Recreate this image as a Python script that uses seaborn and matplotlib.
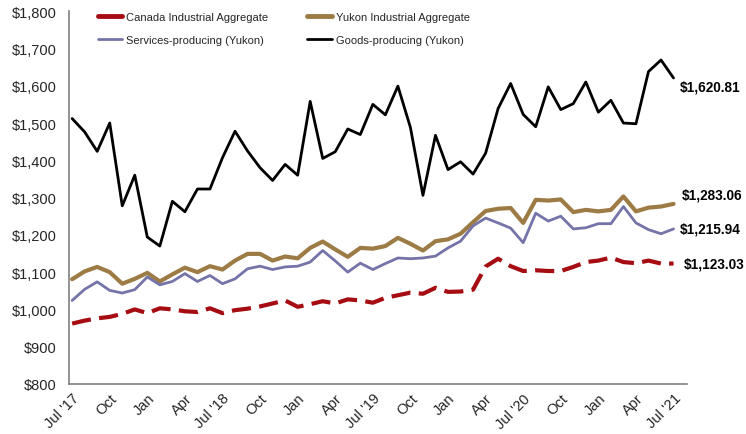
import matplotlib
matplotlib.use("Agg")
import matplotlib.pyplot as plt
from matplotlib.lines import Line2D
import seaborn as sns
import pandas as pd
import numpy as np

months = ["Jul '17", "Aug", "Sep", "Oct", "Nov", "Dec", "Jan", "Feb", "Mar", "Apr", "May", "Jun",
          "Jul '18", "Aug", "Sep", "Oct", "Nov", "Dec", "Jan", "Feb", "Mar", "Apr", "May", "Jun",
          "Jul '19", "Aug", "Sep", "Oct", "Nov", "Dec", "Jan", "Feb", "Mar", "Apr", "May", "Jun",
          "Jul '20", "Aug", "Sep", "Oct", "Nov", "Dec", "Jan", "Feb", "Mar", "Apr", "May", "Jun",
          "Jul '21"]

canada = [962, 970, 976, 980, 988, 1000, 990, 1003, 1000, 995, 993, 1003,
          990, 998, 1002, 1008, 1016, 1024, 1007, 1014, 1022, 1016, 1027, 1024,
          1018, 1031, 1038, 1045, 1042, 1058, 1047, 1048, 1053, 1115, 1136, 1116,
          1103, 1105, 1103, 1103, 1114, 1127, 1131, 1139, 1127, 1124, 1131, 1123,
          1123.03]
yukon = [1081, 1102, 1114, 1100, 1069, 1082, 1098, 1075, 1094, 1112, 1100, 1116,
         1107, 1131, 1149, 1149, 1131, 1142, 1137, 1165, 1182, 1161, 1141, 1165,
         1163, 1170, 1192, 1176, 1158, 1183, 1188, 1203, 1234, 1264, 1270, 1272,
         1232, 1294, 1292, 1295, 1261, 1267, 1263, 1267, 1303, 1263, 1273, 1276,
         1283.06]
services = [1024, 1054, 1074, 1051, 1044, 1053, 1087, 1066, 1075, 1096, 1075, 1091,
            1069, 1082, 1109, 1116, 1107, 1114, 1116, 1127, 1158, 1130, 1100, 1124,
            1107, 1123, 1138, 1136, 1138, 1143, 1165, 1183, 1224, 1245, 1232, 1218,
            1179, 1258, 1237, 1250, 1216, 1219, 1230, 1230, 1276, 1232, 1214, 1203,
            1215.94]
goods = [1512, 1476, 1424, 1500, 1278, 1360, 1194, 1170, 1290, 1262, 1323, 1323,
         1407, 1478, 1425, 1380, 1346, 1389, 1360, 1558, 1405, 1423, 1484, 1469,
         1550, 1522, 1599, 1488, 1306, 1467, 1375, 1396, 1363, 1419, 1539, 1606,
         1523, 1490, 1597, 1536, 1552, 1610, 1529, 1561, 1500, 1498, 1638, 1669,
         1620.81]

series_names = ["Canada Industrial Aggregate", "Yukon Industrial Aggregate",
                "Services-producing (Yukon)", "Goods-producing (Yukon)"]
end_labels = ["$1,123.03", "$1,283.06", "$1,215.94", "$1,620.81"]

colors = ["#a50d12", "#9c7b45", "#7474a8", "#000000"]
widths = [3.0, 3.0, 2.0, 2.0]

sns.set_style("white")
plt.rcParams['font.family'] = ['Liberation Sans', 'DejaVu Sans']

fig = plt.figure(figsize=(7.46, 4.35), dpi=100)
ax = fig.add_axes([0.0925, 0.115, 0.828, 0.857])

x = np.arange(len(months))
all_series = [canada, yukon, services, goods]
for name, vals, c, w in zip(series_names, all_series, colors, widths):
    df = pd.DataFrame({"month": x, "value": vals})
    sns.lineplot(data=df, x="month", y="value", color=c, linewidth=w, ax=ax, legend=False)
    if name.startswith("Canada"):
        ax.lines[-1].set_dashes([4.6, 2.0])

offsets = {"$1,620.81": (4.3, -5.8), "$1,283.06": (6.0, 6.5),
           "$1,215.94": (4.3, 0), "$1,123.03": (7.6, 0)}
for vals, lab in zip(all_series, end_labels):
    ax.annotate(lab, xy=(x[-1], vals[-1]), xytext=offsets[lab],
                textcoords="offset points", ha="left", va="center",
                fontsize=9.8, fontweight="bold", color="black", annotation_clip=False)

ax.set_xlim(-0.25, 49.05)
ax.set_ylim(800, 1800)
ax.set_yticks(np.arange(800, 1801, 100))
ax.set_yticklabels([f"${v:,.0f}" for v in np.arange(800, 1801, 100)], fontsize=10.5)
ax.set_xticks(x[::3])
ax.set_xticklabels(months[::3], rotation=45, ha="right", rotation_mode="anchor", fontsize=10.5)
ax.tick_params(axis="y", length=0, pad=9)
ax.tick_params(axis="x", length=0, pad=5)
ax.set_xlabel("")
ax.set_ylabel("")

for s in ["top", "right"]:
    ax.spines[s].set_visible(False)
for s in ["left", "bottom"]:
    ax.spines[s].set_color("#808080")
    ax.spines[s].set_linewidth(1.2)

order = [0, 2, 1, 3]
handles = [Line2D([0], [0], color=colors[i], lw=[3.5, 3.5, 2.0, 2.0][i]) for i in order]
labels = [series_names[i] for i in order]
ax.legend(handles, labels, ncol=2, loc="upper left", bbox_to_anchor=(0.03, 1.025),
          frameon=False, fontsize=8, handlelength=2.2, handletextpad=0.4,
          columnspacing=3.5, labelspacing=1.2)

fig.savefig("out.png", dpi=100)
